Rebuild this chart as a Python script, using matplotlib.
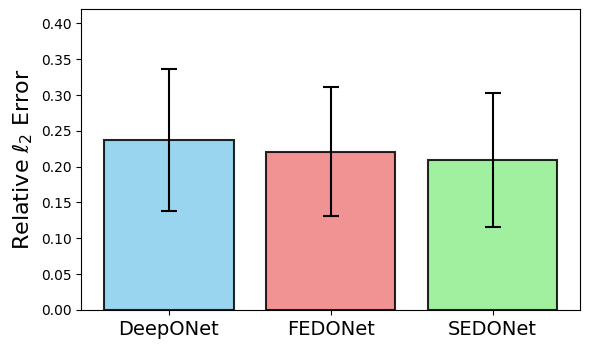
import matplotlib
matplotlib.use("Agg")
import matplotlib.pyplot as plt

models = ["DeepONet", "FEDONet", "SEDONet"]
mean_err = [0.2376, 0.2209, 0.2090]
std_err = [0.0990, 0.0898, 0.0934]
colors = ["skyblue", "lightcoral", "lightgreen"]

fig, ax = plt.subplots(figsize=(5.9, 3.49), dpi=100)
ax.bar(models, mean_err, yerr=std_err, color=colors, edgecolor="black",
       linewidth=1.5, alpha=0.85, capsize=6, width=0.8,
       error_kw=dict(elinewidth=1.5, capthick=1.5, ecolor="black"))
ax.set_ylim(0, 0.42)
ax.set_ylabel(r"Relative $\ell_2$ Error", fontsize=16)
ax.tick_params(axis="x", labelsize=14)
ax.tick_params(axis="y", labelsize=10)
fig.subplots_adjust(left=0.138, right=0.983, top=0.974, bottom=0.112)
fig.savefig("out.png", dpi=100)
